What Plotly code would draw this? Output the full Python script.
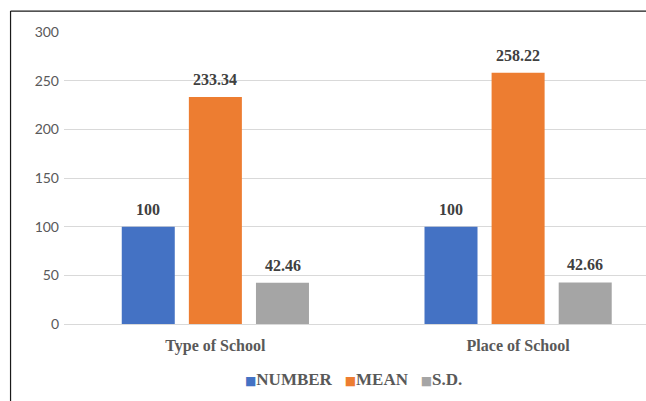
import plotly.graph_objects as go

categories = ["Type of School", "Place of School"]
series_names = ["NUMBER", "MEAN", "S.D."]
number_vals = [100, 100]
mean_vals = [233.34, 258.22]
sd_vals = [42.46, 42.66]
y_ticks = [0, 50, 100, 150, 200, 250, 300]

colors = ["#4472C4", "#ED7D31", "#A5A5A5"]
series = [number_vals, mean_vals, sd_vals]

serif = "Liberation Serif"
sans = "Lato"

W, H = 646, 401
L, R, T, B = 63.5, 0, 32, 76.5
pw = W - L - R
ph = H - T - B
cat_px = 303.0
xmax = -0.5 + pw / cat_px
bargap = 0.335
slot_px = cat_px * (1 - bargap) / len(series)

fig = go.Figure()
for name, vals, col in zip(series_names, series, colors):
    fig.add_trace(go.Bar(
        x=categories, y=vals, name=name, marker_color=col,
        marker_line_width=0, showlegend=False,
    ))

# data labels above bars
for i, vals in enumerate(series):
    for c, v in zip(categories, vals):
        fig.add_annotation(
            x=c, y=v, xref="x", yref="y", text=f"<b>{v:g}</b>",
            showarrow=False, yanchor="bottom", yshift=7,
            xshift=(i - 1) * slot_px,
            font=dict(family=serif, size=16, color="#404040"),
        )

# legend built as text
legend_parts = []
for name, col in zip(series_names, colors):
    legend_parts.append(
        f"<span style='color:{col};font-family:DejaVu Sans;font-size:12px'>■</span><b>{name}</b>"
    )
fig.add_annotation(
    x=(353 - L) / pw, y=-(380 - (T + ph)) / ph, xref="paper", yref="paper",
    text="&nbsp;&nbsp;&nbsp;".join(legend_parts), showarrow=False,
    xanchor="center", yanchor="middle",
    font=dict(family=serif, size=17, color="#595959"),
)

fig.update_layout(
    width=W, height=H,
    margin=dict(l=L, r=R, t=T, b=B, pad=0),
    paper_bgcolor="white", plot_bgcolor="white",
    barmode="group", bargap=bargap, bargroupgap=0.21,
    showlegend=False,
    xaxis=dict(range=[-0.5, xmax], showgrid=False, zeroline=False,
               showline=False, ticks="",
               tickvals=categories,
               ticktext=[f"<b>{c}</b>" for c in categories],
               tickfont=dict(family=serif, size=16, color="#595959"),
               ticklabelstandoff=10),
    yaxis=dict(range=[0, 300], tickvals=y_ticks, showgrid=True,
               gridcolor="#D9D9D9", gridwidth=1, zeroline=True,
               zerolinecolor="#D9D9D9", zerolinewidth=1, showline=False,
               tickfont=dict(family=sans, size=14, color="#595959"),
               ticks="", ticklabelstandoff=4),
    font=dict(family=serif),
)

# outer frame (top and left edges visible)
fx = (10 - L) / pw
fy = 1 + (T - 11) / ph
fig.add_shape(type="line", xref="paper", yref="paper",
              x0=fx, x1=fx, y0=-0.5, y1=fy,
              line=dict(color="#1a1a1a", width=1.2), layer="above")
fig.add_shape(type="line", xref="paper", yref="paper",
              x0=fx, x1=1.05, y0=fy, y1=fy,
              line=dict(color="#1a1a1a", width=1.2), layer="above")

fig.write_html(
    "out.html",
    config={"displayModeBar": False},
    post_script="document.documentElement.style.overflow='hidden';document.body.style.overflow='hidden';document.body.style.margin='0';",
)
